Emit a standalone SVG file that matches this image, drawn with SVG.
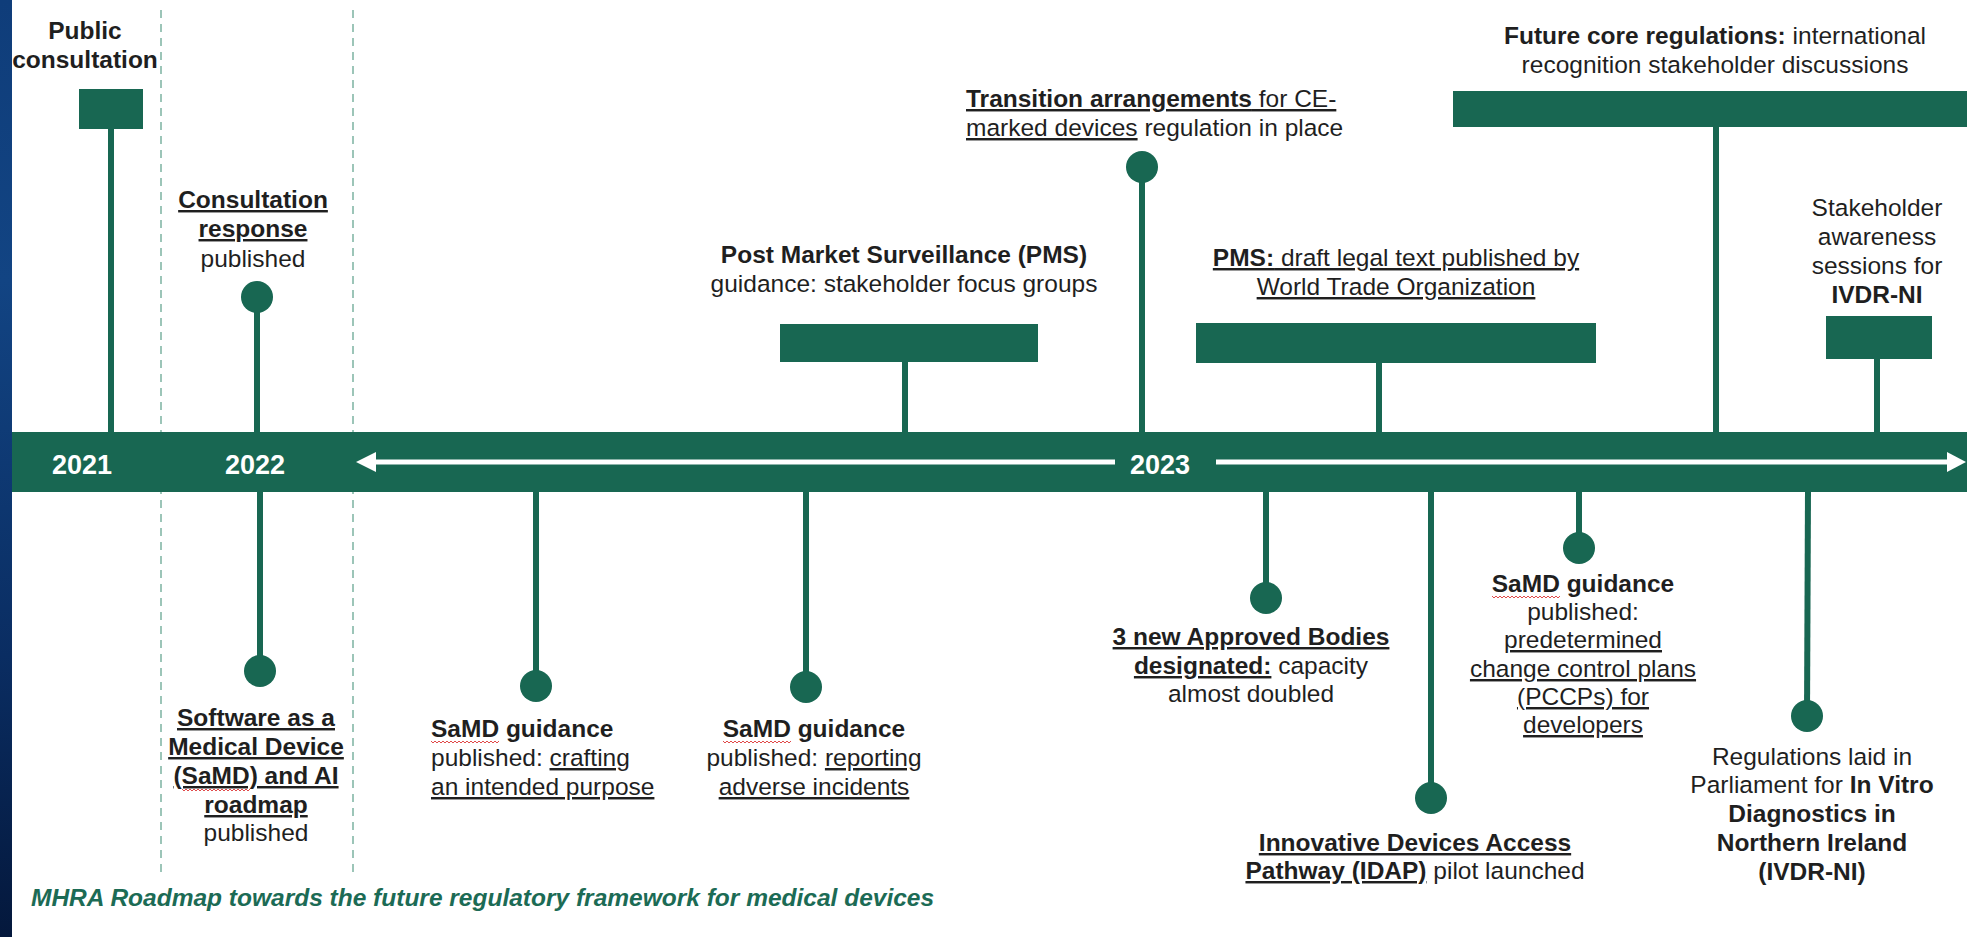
<svg xmlns="http://www.w3.org/2000/svg" width="1967" height="937" viewBox="0 0 1967 937">
  <defs>
    <linearGradient id="sideBlue" x1="0" y1="0" x2="0" y2="1">
      <stop offset="0" stop-color="#0f3d7a"/>
      <stop offset="0.3" stop-color="#124483"/>
      <stop offset="0.7" stop-color="#0a2d62"/>
      <stop offset="1" stop-color="#04183c"/>
    </linearGradient>
    <style>
      .lbl { font-family: "Liberation Sans", Arial, Helvetica, sans-serif; font-size: 24.5px; fill: #1f1f1f; }
      .c { text-anchor: middle; }
      .b { font-weight: bold; }
      .u { text-decoration: underline; }
      .year { font-family: "Liberation Sans", Arial, Helvetica, sans-serif; font-size: 27px; font-weight: bold; fill: #ffffff; text-anchor: middle; }
      .caption { font-family: "Liberation Sans", Arial, Helvetica, sans-serif; font-size: 24.5px; font-weight: bold; font-style: italic; fill: #1c6b55; }
      .fill { fill: #186752; }
      .stem { stroke: #186752; stroke-width: 6; fill: none; }
      .guide { stroke: #9cc5b8; stroke-width: 2; stroke-dasharray: 8 6; fill: none; }
      .spell { stroke: #e04a4a; stroke-width: 1; fill: none; }
      .arrow { fill: #ffffff; }
    </style>
  </defs>

  <rect x="0" y="0" width="1967" height="937" fill="#ffffff"/>
  <!-- slide edge -->
  <rect x="0" y="0" width="12" height="937" fill="url(#sideBlue)"/>

  <!-- year separators -->
  <g id="year-guides">
    <line class="guide" x1="161" y1="10" x2="161" y2="873"/>
    <line class="guide" x1="353" y1="10" x2="353" y2="873"/>
  </g>

  <!-- stems joining each milestone to the timeline -->
  <g id="connectors">
    <line class="stem" x1="111" y1="129" x2="111" y2="434"/>
    <line class="stem" x1="257" y1="297" x2="257" y2="434"/>
    <line class="stem" x1="260" y1="490" x2="260" y2="671"/>
    <line class="stem" x1="536" y1="490" x2="536" y2="686"/>
    <line class="stem" x1="806" y1="490" x2="806" y2="687"/>
    <line class="stem" x1="905" y1="362" x2="905" y2="434"/>
    <line class="stem" x1="1142" y1="167" x2="1142" y2="434"/>
    <line class="stem" x1="1379" y1="363" x2="1379" y2="434"/>
    <line class="stem" x1="1716" y1="127" x2="1716" y2="434"/>
    <line class="stem" x1="1877" y1="359" x2="1877" y2="434"/>
    <line class="stem" x1="1266" y1="490" x2="1266" y2="598"/>
    <line class="stem" x1="1431" y1="490" x2="1431" y2="798"/>
    <line class="stem" x1="1579" y1="490" x2="1579" y2="548"/>
    <line class="stem" x1="1808" y1="490" x2="1807" y2="716"/>
  </g>

  <!-- timeline bar -->
  <g id="timeline">
    <rect class="fill" x="12" y="432" width="1955" height="60"/>
    <rect class="arrow" x="372" y="459.5" width="743" height="5"/>
    <polygon class="arrow" points="356,462 376,452 376,472"/>
    <rect class="arrow" x="1216" y="459.5" width="733" height="5"/>
    <polygon class="arrow" points="1966,462 1947,452 1947,472"/>
    <text class="year" x="82" y="474">2021</text>
    <text class="year" x="255" y="474">2022</text>
    <text class="year" x="1160" y="474">2023</text>
  </g>

  <g id="n-public">
    <rect class="fill" x="79" y="89" width="64" height="40"/>
    <text class="lbl c b" x="85" y="39">Public</text>
    <text class="lbl c b" x="85" y="68">consultation</text>
  </g>

  <g id="n-consult-response">
    <circle class="fill" cx="257" cy="297" r="16"/>
    <text class="lbl c" x="253" y="208"><tspan class="b u">Consultation</tspan></text>
    <text class="lbl c" x="253" y="237"><tspan class="b u">response</tspan></text>
    <text class="lbl c" x="253" y="267">published</text>
  </g>

  <g id="n-samd-roadmap">
    <circle class="fill" cx="260" cy="671" r="16"/>
    <text class="lbl c" x="256" y="726"><tspan class="b u">Software as a</tspan></text>
    <text class="lbl c" x="256" y="755"><tspan class="b u">Medical Device</tspan></text>
    <text class="lbl c" x="256" y="784"><tspan class="b u">(SaMD) and AI</tspan></text>
    <text class="lbl c" x="256" y="813"><tspan class="b u">roadmap</tspan></text>
    <text class="lbl c" x="256" y="841">published</text>
    <path class="spell" d="M182,789 l2,2 l2,-2 l2,2 l2,-2 l2,2 l2,-2 l2,2 l2,-2 l2,2 l2,-2 l2,2 l2,-2 l2,2 l2,-2 l2,2 l2,-2 l2,2 l2,-2 l2,2 l2,-2 l2,2 l2,-2 l2,2 l2,-2 l2,2 l2,-2 l2,2 l2,-2 l2,2 l2,-2 l2,2 l2,-2 l2,2 l2,-2"/>
  </g>

  <g id="n-samd-purpose">
    <circle class="fill" cx="536" cy="686" r="16"/>
    <text class="lbl b" x="431" y="737">SaMD guidance</text>
    <text class="lbl" x="431" y="766">published: <tspan class="u">crafting</tspan></text>
    <text class="lbl" x="431" y="795"><tspan class="u">an intended purpose</tspan></text>
    <path class="spell" d="M431,741 l2,2 l2,-2 l2,2 l2,-2 l2,2 l2,-2 l2,2 l2,-2 l2,2 l2,-2 l2,2 l2,-2 l2,2 l2,-2 l2,2 l2,-2 l2,2 l2,-2 l2,2 l2,-2 l2,2 l2,-2 l2,2 l2,-2 l2,2 l2,-2 l2,2 l2,-2 l2,2 l2,-2 l2,2 l2,-2 l2,2 l2,-2"/>
  </g>

  <g id="n-samd-incidents">
    <circle class="fill" cx="806" cy="687" r="16"/>
    <text class="lbl c b" x="814" y="737">SaMD guidance</text>
    <text class="lbl c" x="814" y="766">published: <tspan class="u">reporting</tspan></text>
    <text class="lbl c" x="814" y="795"><tspan class="u">adverse incidents</tspan></text>
    <path class="spell" d="M723,741 l2,2 l2,-2 l2,2 l2,-2 l2,2 l2,-2 l2,2 l2,-2 l2,2 l2,-2 l2,2 l2,-2 l2,2 l2,-2 l2,2 l2,-2 l2,2 l2,-2 l2,2 l2,-2 l2,2 l2,-2 l2,2 l2,-2 l2,2 l2,-2 l2,2 l2,-2 l2,2 l2,-2 l2,2 l2,-2 l2,2 l2,-2"/>
  </g>

  <g id="n-pms-focus">
    <rect class="fill" x="780" y="324" width="258" height="38"/>
    <text class="lbl c b" x="904" y="263">Post Market Surveillance (PMS)</text>
    <text class="lbl c" x="904" y="292">guidance: stakeholder focus groups</text>
  </g>

  <g id="n-transition">
    <circle class="fill" cx="1142" cy="167" r="16"/>
    <text class="lbl" x="966" y="107"><tspan class="b u">Transition arrangements</tspan><tspan class="u"> for CE-</tspan></text>
    <text class="lbl" x="966" y="136"><tspan class="u">marked devices</tspan> regulation in place</text>
  </g>

  <g id="n-pms-wto">
    <rect class="fill" x="1196" y="323" width="400" height="40"/>
    <text class="lbl c" x="1396" y="266"><tspan class="b u">PMS:</tspan><tspan class="u"> draft legal text published by</tspan></text>
    <text class="lbl c" x="1396" y="295"><tspan class="u">World Trade Organization</tspan></text>
  </g>

  <g id="n-future-core">
    <rect class="fill" x="1453" y="91" width="514" height="36"/>
    <text class="lbl c" x="1715" y="44"><tspan class="b">Future core regulations:</tspan> international</text>
    <text class="lbl c" x="1715" y="73">recognition stakeholder discussions</text>
  </g>

  <g id="n-ivdr-awareness">
    <rect class="fill" x="1826" y="316" width="106" height="43"/>
    <text class="lbl c" x="1877" y="216">Stakeholder</text>
    <text class="lbl c" x="1877" y="245">awareness</text>
    <text class="lbl c" x="1877" y="274">sessions for</text>
    <text class="lbl c b" x="1877" y="303">IVDR-NI</text>
  </g>

  <g id="n-approved-bodies">
    <circle class="fill" cx="1266" cy="598" r="16"/>
    <text class="lbl c" x="1251" y="645"><tspan class="b u">3 new Approved Bodies</tspan></text>
    <text class="lbl c" x="1251" y="674"><tspan class="b u">designated:</tspan> capacity</text>
    <text class="lbl c" x="1251" y="702">almost doubled</text>
  </g>

  <g id="n-idap">
    <circle class="fill" cx="1431" cy="798" r="16"/>
    <text class="lbl c" x="1415" y="851"><tspan class="b u">Innovative Devices Access</tspan></text>
    <text class="lbl c" x="1415" y="879"><tspan class="b u">Pathway (IDAP)</tspan> pilot launched</text>
  </g>

  <g id="n-samd-pccp">
    <circle class="fill" cx="1579" cy="548" r="16"/>
    <text class="lbl c b" x="1583" y="592">SaMD guidance</text>
    <text class="lbl c" x="1583" y="620">published:</text>
    <text class="lbl c" x="1583" y="648"><tspan class="u">predetermined</tspan></text>
    <text class="lbl c" x="1583" y="677"><tspan class="u">change control plans</tspan></text>
    <text class="lbl c" x="1583" y="705"><tspan class="u">(PCCPs) for</tspan></text>
    <text class="lbl c" x="1583" y="733"><tspan class="u">developers</tspan></text>
    <path class="spell" d="M1492,596 l2,2 l2,-2 l2,2 l2,-2 l2,2 l2,-2 l2,2 l2,-2 l2,2 l2,-2 l2,2 l2,-2 l2,2 l2,-2 l2,2 l2,-2 l2,2 l2,-2 l2,2 l2,-2 l2,2 l2,-2 l2,2 l2,-2 l2,2 l2,-2 l2,2 l2,-2 l2,2 l2,-2 l2,2 l2,-2 l2,2 l2,-2"/>
  </g>

  <g id="n-ivdr-regs">
    <circle class="fill" cx="1807" cy="716" r="16"/>
    <text class="lbl c" x="1812" y="765">Regulations laid in</text>
    <text class="lbl c" x="1812" y="793">Parliament for <tspan class="b">In Vitro</tspan></text>
    <text class="lbl c b" x="1812" y="822">Diagnostics in</text>
    <text class="lbl c b" x="1812" y="851">Northern Ireland</text>
    <text class="lbl c b" x="1812" y="880">(IVDR-NI)</text>
  </g>

  <text id="caption" class="caption" x="31" y="906">MHRA Roadmap towards the future regulatory framework for medical devices</text>
</svg>
